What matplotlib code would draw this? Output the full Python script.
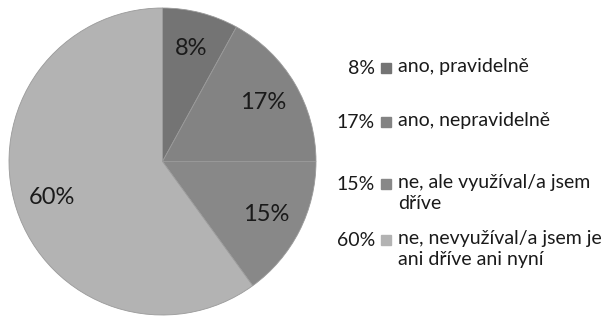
import matplotlib
matplotlib.use("Agg")
import matplotlib.pyplot as plt
from matplotlib.patches import Rectangle

# data
labels = ["ano, pravidelně", "ano, nepravidelně",
          "ne, ale využíval/a jsem\ndříve", "ne, nevyužíval/a jsem je\nani dříve ani nyní"]
shares = [8, 17, 15, 60]
colors = ["#747474", "#838383", "#888888", "#b3b3b3"]

plt.rcParams['font.family'] = ['Lato', 'DejaVu Sans']

W, H = 611, 317
fig = plt.figure(figsize=(W / 100, H / 100), dpi=100)

# pie: centre ~ (162, 162) px, radius ~153 px
ax = fig.add_axes([9 / W, (H - 315) / H, 307 / W, 307 / H])
wedges, texts, autotexts = ax.pie(
    shares, colors=colors, startangle=90, counterclock=False,
    autopct=lambda p: f"{p:.0f}%", pctdistance=0.76,
    wedgeprops=dict(linewidth=0.6, edgecolor="#9a9a9a"),
    textprops=dict(fontsize=17, color="#1a1a1a"))
ax.set_xlim(-1, 1)
ax.set_ylim(-1, 1)
ax.set_aspect("equal")
ax.axis("off")

# legend drawn by hand: percentage, square, label
row_y = [68, 122, 184, 240]
for share, lab, col, y in zip(shares, labels, colors, row_y):
    fy = 1 - y / H
    fig.text(375 / W, fy, f"{share}%", ha="right", va="center",
             fontsize=14, color="#1a1a1a")
    fig.patches.append(Rectangle((381 / W, fy - 5 / H), 10 / W, 10 / H,
                                 transform=fig.transFigure, color=col))
    fig.text(398 / W, fy + 10 / H, lab, ha="left", va="top",
             fontsize=14, color="#1a1a1a", linespacing=1.3)

fig.savefig("out.png", dpi=100, facecolor="white")
